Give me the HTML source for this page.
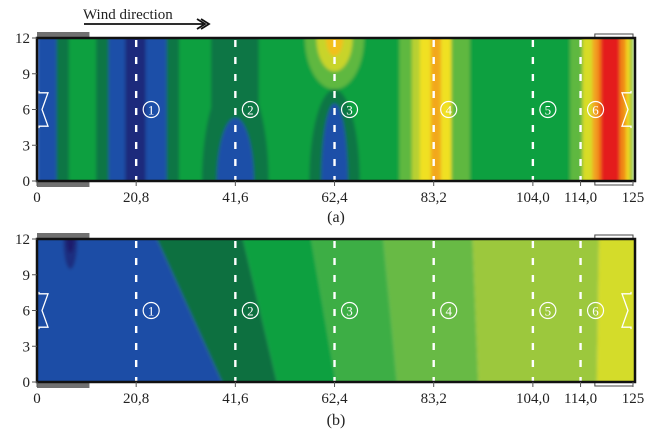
<!DOCTYPE html>
<html><head><meta charset="utf-8">
<style>
html,body{margin:0;padding:0;background:#fff;width:650px;height:434px;overflow:hidden}
svg{display:block}
text{font-family:"Liberation Serif",serif;fill:#222}
</style></head>
<body>
<svg id="chart" width="650" height="434" viewBox="0 0 650 434" xmlns="http://www.w3.org/2000/svg">
<defs>
<filter id="soft" x="-5%" y="-5%" width="110%" height="110%"><feGaussianBlur stdDeviation="1.6"/></filter>
<clipPath id="clipA"><rect x="37" y="38" width="598" height="143"/></clipPath>
<clipPath id="clipB"><rect x="37" y="239" width="598" height="143"/></clipPath>
</defs>
<text x="83" y="19" font-size="15">Wind direction</text>
<line x1="84" y1="24" x2="203" y2="24" stroke="#111" stroke-width="1.8"/>
<path d="M197 19 L205 24 L197 29 M201 19 L209 24 L201 29" fill="none" stroke="#111" stroke-width="1.8"/>
<g id="panelA"></g>
<g id="panelB"></g>
<text x="336" y="222" font-size="16" text-anchor="middle">(a)</text>
<text x="336" y="425" font-size="16" text-anchor="middle">(b)</text>
</svg>
<script>
// ---- data ----
const xTicks = [0, 20.8, 41.6, 62.4, 83.2, 104.0, 114.0, 125];
const xTickLabels = ["0", "20,8", "41,6", "62,4", "83,2", "104,0", "114,0", "125"];
const yTicks = [0, 3, 6, 9, 12];
const sectionLines = [20.8, 41.6, 62.4, 83.2, 104.0, 114.0];
const sectionLabels = ["1", "2", "3", "4", "5", "6"];
// panel (a): vertical bands [start, end, color]
const bandStartA = [0, 4.1, 6.7, 12.4, 15, 18.5, 22.8, 27.2, 29.8, 36.5, 46.5, 76, 78.6, 80.3, 82.6, 84.7, 86.9, 90.8, 111.8, 114.4, 116.5, 117.6, 118.3, 122.2, 123.5, 124.4];
const bandEndA   = [4.1, 6.7, 12.4, 15, 18.5, 22.8, 27.2, 29.8, 36.5, 46.5, 76, 78.6, 80.3, 82.6, 84.7, 86.9, 90.8, 111.8, 114.4, 116.5, 117.6, 118.3, 122.2, 123.5, 124.4, 125];
const bandColorA = ["#1f4fa8","#0c7644","#0fa040","#0c7644","#1f4fa8","#1b2a7c","#1f4fa8","#0c7644","#0fa040","#0c7644","#0fa040","#5fb840","#b8d030","#f0e020","#f2a81c","#f0e020","#5fb840","#0fa040","#5fb840","#d8dc28","#f2a020","#f07818","#e41e1e","#f08818","#f0d820","#8cc43c"];
// panel (a) blobs: [cx, cy, rx, ry, color]
const blobCx = [41.6, 41.6, 62.4, 62.4, 62.4, 62.4, 62.4];
const blobCy = [0, 0, 0, 0, 12, 12, 12];
const blobRx = [7, 3.9, 5.3, 2.8, 6.2, 3.8, 1.8];
const blobRy = [9, 5.3, 7.7, 6.5, 4.3, 2.8, 1.5];
const blobColor = ["#0c7644","#1f4fa8","#0c7644","#1f4fa8","#5fb840","#c8d42c","#f2c01c"];
// panel (b): slanted bands, boundary x at top (y=12) and bottom (y=0)
const boundTopB = [24.6, 42.9, 57.3, 72.5, 91.3, 117.9];
const boundBotB = [39.4, 50.6, 62.9, 75.6, 92.6, 117.4];
const bandColorB = ["#1e4ea6","#0b7040","#08a040","#3cae44","#68ba44","#9cc83c","#d4dc2a"];

// ---- scales ----
const X0 = 37, X1 = 633;
const sx = v => X0 + (v / 125) * (X1 - X0);
const syA = v => 181 - (v / 12) * 143;
const syB = v => 382 - (v / 12) * 143;
const NS = "http://www.w3.org/2000/svg";
function mk(tag, attrs, parent) {
  const e = document.createElementNS(NS, tag);
  for (const k in attrs) e.setAttribute(k, attrs[k]);
  parent.appendChild(e);
  return e;
}

function frame(g, sy, top, bot, clipId, name) {
  const b1 = mk("rect", {x: sx(0), y: top - 6, width: sx(11) - sx(0), height: 6, fill: "#707070"}, g);
  
  
  const b2 = mk("rect", {x: sx(0), y: bot, width: sx(11) - sx(0), height: 6, fill: "#707070"}, g);
  
  
  mk("rect", {x: sx(117), y: top - 4, width: sx(125) - sx(117), height: 4, fill: "none", stroke: "#444", "stroke-width": 1}, g);
  mk("rect", {x: sx(117), y: bot, width: sx(125) - sx(117), height: 4, fill: "none", stroke: "#444", "stroke-width": 1}, g);
  sectionLines.forEach((v, i) => {
    const l = mk("line", {x1: sx(v), y1: top + 2, x2: sx(v), y2: bot, stroke: "#fff", "stroke-width": 2.4, "stroke-dasharray": "7 10"}, g);
    
    
    const cx = sx(v) + 15, cy = sy(6);
    const c = mk("circle", {cx: cx, cy: cy, r: 8, fill: "none", stroke: "#fff", "stroke-width": 1.2}, g);
    
    
    const t = mk("text", {x: cx, y: cy + 5, "font-size": 13, "text-anchor": "middle", style: "fill:#fff"}, g);
    t.textContent = sectionLabels[i];
  });
  const ya = sy(7.4), yb = sy(4.6), ym = sy(6);
  const d1 = mk("path", {d: `M${sx(0)+2} ${ya-2} V${ya} H${sx(0)+11} L${sx(0)+5} ${ym} L${sx(0)+11} ${yb} H${sx(0)+2} V${yb+2}`, fill: "none", stroke: "#fff", "stroke-width": 1.3}, g);
  
  
  const d2 = mk("path", {d: `M${sx(125)-2} ${ya-2} V${ya} H${sx(125)-11} L${sx(125)-5} ${ym} L${sx(125)-11} ${yb} H${sx(125)-2} V${yb+2}`, fill: "none", stroke: "#fff", "stroke-width": 1.3}, g);
  
  
  const box = mk("rect", {x: sx(0), y: top, width: 598, height: bot - top, fill: "none", stroke: "#111", "stroke-width": 2.5}, g);
  
  
  yTicks.forEach(v => {
    mk("line", {x1: sx(0) - 5, y1: sy(v), x2: sx(0), y2: sy(v), stroke: "#555", "stroke-width": 1}, g);
    const t = mk("text", {x: sx(0) - 7, y: sy(v) + 5, "font-size": 15, "text-anchor": "end"}, g);
    
    
    t.textContent = v;
  });
  xTicks.forEach((v, i) => {
    mk("line", {x1: sx(v), y1: bot, x2: sx(v), y2: bot + 5, stroke: "#555", "stroke-width": 1}, g);
    const t = mk("text", {x: sx(v), y: bot + 21, "font-size": 15, "text-anchor": "middle"}, g);
    
    
    t.textContent = xTickLabels[i];
  });
}

// ---- panel a ----
const gA = document.getElementById("panelA");
const fillA = mk("g", {"clip-path": "url(#clipA)"}, gA);
const inA = mk("g", {filter: "url(#soft)"}, fillA);
bandStartA.forEach((s, i) => {
  const r = mk("rect", {x: sx(s), y: 30, width: sx(bandEndA[i]) - sx(s) + 0.5, height: 160, fill: bandColorA[i]}, inA);
  
  
});
blobCx.forEach((c, i) => {
  const e = mk("ellipse", {cx: sx(c), cy: syA(blobCy[i]), rx: sx(blobRx[i]) - sx(0), ry: syA(0) - syA(blobRy[i]), fill: blobColor[i]}, inA);
  
  
});
frame(gA, syA, 38, 181, "clipA", "panel-a");

// ---- panel b ----
const gB = document.getElementById("panelB");
const fillB = mk("g", {"clip-path": "url(#clipB)"}, gB);
const inB = mk("g", {filter: "url(#soft)"}, fillB);
bandColorB.forEach((col, i) => {
  const lt = i === 0 ? -5 : boundTopB[i - 1], lb = i === 0 ? -5 : boundBotB[i - 1];
  const rt = i === bandColorB.length - 1 ? 130 : boundTopB[i], rb = i === bandColorB.length - 1 ? 130 : boundBotB[i];
  const p = mk("polygon", {points: `${sx(lt)},${syB(12.5)} ${sx(rt)},${syB(12.5)} ${sx(rb)},${syB(-0.5)} ${sx(lb)},${syB(-0.5)}`, fill: col}, inB);
  
  
});
const spot = mk("ellipse", {cx: sx(7), cy: syB(12), rx: 7, ry: 30, fill: "#1a2e80"}, inB);


mk("ellipse", {cx: sx(7), cy: syB(12), rx: 4, ry: 14, fill: "#1b1f6c"}, inB);
frame(gB, syB, 239, 382, "clipB", "panel-b");
</script>
</body></html>
